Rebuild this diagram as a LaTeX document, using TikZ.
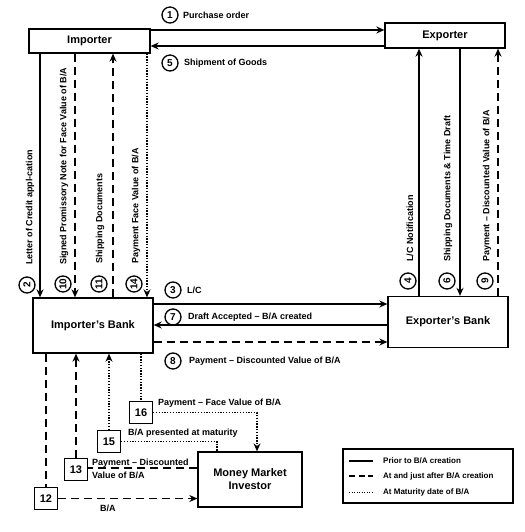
\documentclass[tikz,border=0pt]{standalone}
\usepackage{fontspec}
\setmainfont{Liberation Sans}
\usetikzlibrary{arrows.meta,calc}
\begin{document}
\begin{tikzpicture}[x=1pt,y=-1pt,
  every node/.style={font=\bfseries\fontsize{9}{10}\selectfont},
  box/.style={draw,line width=1.3pt,inner sep=0,align=center,font=\bfseries\fontsize{11}{13}\selectfont},
  sline/.style={line width=1.3pt},
  dline/.style={line width=1.3pt,dash pattern=on 8pt off 5pt},
  oline/.style={line width=1.2pt,dash pattern=on 1.3pt off 1.5pt},
  arr/.style={-{Stealth[length=8pt,width=7pt]}},
  num/.style={circle,draw,line width=1.3pt,minimum size=16pt,inner sep=0,font=\bfseries\fontsize{10}{10}\selectfont},
  sq/.style={draw,line width=1.3pt,minimum width=23pt,minimum height=22pt,inner sep=0,font=\bfseries\fontsize{11}{11}\selectfont},
  lab/.style={inner sep=0,anchor=west},
  vlab/.style={inner sep=0,anchor=west,rotate=90},
  legtext/.style={inner sep=0,anchor=west,font=\bfseries\fontsize{8}{9}\selectfont}
]
\useasboundingbox (0,0) rectangle (524,532);

% main boxes
\node[box,minimum width=121pt,minimum height=24pt] (imp) at (89.5,41) {Importer};
\node[box,minimum width=120pt,minimum height=25pt] (exp) at (445,35.5) {Exporter};
\node[box,minimum width=120pt,minimum height=55pt] (ib) at (93,325.5) {Importer’s Bank};
\node[box,minimum width=120pt,minimum height=51pt] (eb) at (448,322) {Exporter’s Bank};
\node[box,minimum width=104pt,minimum height=55pt] (mmi) at (250,479.5) {Money Market\\Investor};

% horizontal flows
\draw[sline,arr] (imp.east |- 0,30) -- (exp.west |- 0,30);
\draw[sline,arr] (exp.west |- 0,46) -- (imp.east |- 0,46);
\draw[sline,arr] (ib.east |- 0,304) -- (eb.west |- 0,304);
\draw[sline,arr] (eb.west |- 0,325) -- (ib.east |- 0,325);
\draw[dline,arr] (ib.east |- 0,342) -- (eb.west |- 0,342);

\node[num] (n1) at (170,15) {1};
\node[lab] (t1) at (183,15) {Purchase order};
\node[num] (n5) at (170,63) {5};
\node[lab] (t5) at (184,63) {Shipment of Goods};
\node[num] (n3) at (173,290) {3};
\node[lab] (t3) at (187,290) {L/C};
\node[num] (n7) at (173,317) {7};
\node[lab] (t7) at (188,317) {Draft Accepted – B/A created};
\node[num] (n8) at (173,361) {8};
\node[lab] (t8) at (189,361) {Payment – Discounted Value of B/A};

% left verticals
\draw[sline,arr] (40,0 |- imp.south) -- (40,0 |- ib.north);
\draw[dline,arr] (75,0 |- imp.south) -- (75,0 |- ib.north);
\draw[dline,arr] (113,0 |- ib.north) -- (113,0 |- imp.south);
\draw[oline,arr] (147,0 |- imp.south) -- (147,0 |- ib.north);

\node[num,rotate=90] (n2) at (27,285) {2};
\node[num,rotate=90] (n10) at (63,284) {10};
\node[num,rotate=90] (n11) at (99,284) {11};
\node[num,rotate=90] (n14) at (134,284) {14};
\node[vlab] (t2) at (30,265) {Letter of Credit appl-cation};
\node[vlab] (t10) at (64,265) {Signed Promissory Note for Face Value of B/A};
\node[vlab] (t11) at (100,264) {Shipping Documents};
\node[vlab] (t14) at (136,264) {Payment Face Value of B/A};

% right verticals
\draw[sline,arr] (419,0 |- eb.north) -- (419,0 |- exp.south);
\draw[sline,arr] (460,0 |- exp.south) -- (460,0 |- eb.north);
\draw[dline,arr] (498,0 |- eb.north) -- (498,0 |- exp.south);

\node[num,rotate=90] (n4) at (408,281) {4};
\node[num,rotate=90] (n6) at (447,281) {6};
\node[num,rotate=90] (n9) at (485,281) {9};
\node[vlab] (t4) at (410,262) {L/C Notification};
\node[vlab] (t6) at (448,262) {Shipping Documents \& Time Draft};
\node[vlab] (t9) at (487,262) {Payment – Discounted Value of B/A};

% money market part
\node[sq] (b12) at (46,498.5) {12};
\node[sq] (b13) at (76,469.5) {13};
\node[sq] (b15) at (109,441.5) {15};
\node[sq] (b16) at (141,412.5) {16};

\draw[dline] (b12.north |- ib.south) -- (b12.north);
\draw[dline,arr] (b12.east) -- (mmi.west |- b12.east);
\draw[dline,arr] (b13.north) -- (b13.north |- ib.south);
\draw[dline] (mmi.west |- 0,468) -- (b13.east |- 0,468);
\draw[oline,arr] (b15.north) -- (b15.north |- ib.south);
\draw[oline] (b15.east) -| (217,0 |- mmi.north);
\draw[oline] (b16.north |- ib.south) -- (b16.north);
\draw[oline,arr] (b16.east) -| (257,0 |- mmi.north);

\node[lab] (t16) at (158,403) {Payment – Face Value of B/A};
\node[lab] (t15) at (128,433) {B/A presented at maturity};
\node[lab,align=left,font=\bfseries\fontsize{9}{13}\selectfont] (t13) at (92,469) {Payment – Discounted\\Value of B/A};
\node[lab] (t12) at (100,508) {B/A};

% legend
\node[draw,line width=1.3pt,minimum width=170pt,minimum height=54pt,inner sep=0] (leg) at (428,476) {};
\coordinate (la) at (349,461); \coordinate (lb) at (373,461);
\coordinate (lc) at (349,476); \coordinate (ld) at (373,476);
\coordinate (le) at (349,492); \coordinate (lf) at (373,492);
\draw[sline] (la) -- (lb);
\draw[line width=1.3pt,dash pattern=on 6pt off 3.5pt] (lc) -- (ld);
\draw[line width=0.9pt,dash pattern=on 1pt off 1.5pt] (le) -- (lf);
\node[legtext] (l1) at (383,461) {Prior to B/A creation};
\node[legtext] (l2) at (383,476) {At and just after B/A creation};
\node[legtext] (l3) at (383,492) {At Maturity date of B/A};
\end{tikzpicture}
\end{document}
